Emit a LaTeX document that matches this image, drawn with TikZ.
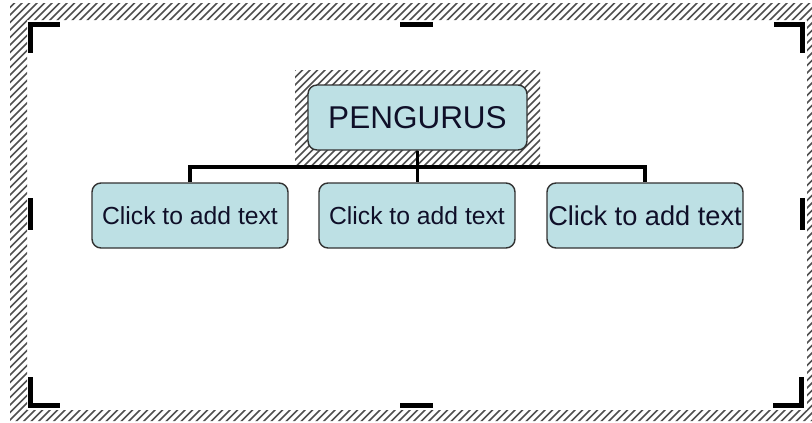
\documentclass[tikz,border=0pt]{standalone}
\usepackage{fontspec}
\setmainfont{Liberation Sans}
\definecolor{boxfill}{RGB}{189,224,228}
\definecolor{boxline}{RGB}{50,50,50}
\definecolor{hatchgray}{RGB}{80,80,80}
\definecolor{txt}{RGB}{15,15,40}
\tikzset{
  hatchline/.style={draw=hatchgray, line width=1.5pt},
  handle/.style={draw=black, line width=5pt, line cap=butt, line join=miter},
  orgbox/.style={draw=boxline, fill=boxfill, line width=1.4pt, rounded corners=9pt,
    minimum width=196pt, minimum height=65pt, inner sep=0pt, text=txt},
  conn/.style={draw=black, line width=3.2pt, line cap=butt, line join=miter}
}
\begin{document}
\begin{tikzpicture}[x=1pt,y=-1pt]
\useasboundingbox (0,0) rectangle (812,423);
\fill[white] (0,0) rectangle (812,423);
% outer hatched frame
\begin{scope}[even odd rule]
  \clip (10,3) rectangle (815,421) (27,20) rectangle (807,410);
  \foreach \i in {-460,-452.5,...,830} \draw[hatchline] (\i,440) -- ++(460,-460);
\end{scope}
% hatched selection around title
\begin{scope}
  \clip (295,70) rectangle (540,164);
  \foreach \i in {150,157.5,...,560} \draw[hatchline] (\i,170) -- ++(120,-120);
\end{scope}
% handles
\draw[handle] (30.5,53) -- (30.5,24.5) -- (60,24.5);
\draw[handle] (774,24.5) -- (802.5,24.5) -- (802.5,53);
\draw[handle] (30.5,377) -- (30.5,405.5) -- (60,405.5);
\draw[handle] (773,405.5) -- (801.5,405.5) -- (801.5,377);
\draw[handle] (400,24.5) -- (433,24.5);
\draw[handle] (400,405.5) -- (433,405.5);
\draw[handle] (30.5,198) -- (30.5,230);
\draw[handle] (802.5,198) -- (802.5,230);
% nodes
\node[orgbox, minimum width=219pt] (P) at (417.5,117.5) {\fontsize{31.5}{35}\selectfont PENGURUS};
\node[orgbox] (c1) at (190,215.5) {\fontsize{24.7}{28}\selectfont Click to add text};
\node[orgbox] (c2) at (417,215.5) {\fontsize{24.7}{28}\selectfont Click to add text};
\node[orgbox] (c3) at (645,215.5) {\fontsize{27.2}{30}\selectfont Click to add text};
% connectors
\coordinate (bus) at (417,167);
\draw[conn] (c1.north) -- (c1.north |- bus) -- (c3.north |- bus) -- (c3.north);
\draw[conn] (P.south) -- (P.south |- c2.north);
\end{tikzpicture}
\end{document}
